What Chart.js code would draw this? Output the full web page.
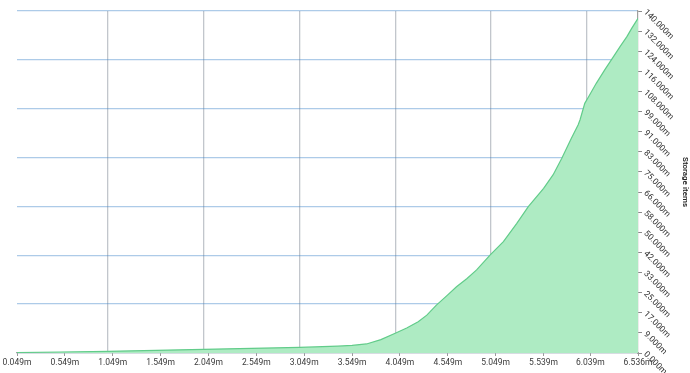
<!DOCTYPE html>
<html>
<head>
<meta charset="utf-8">
<script src="https://cdn.jsdelivr.net/npm/chart.js@4.4.0/dist/chart.umd.min.js"></script>
<style>
html,body{margin:0;padding:0;background:#fff;}
#wrap{width:690px;height:373px;position:relative;}
</style>
</head>
<body>
<div id="wrap"><canvas id="c" width="690" height="373"></canvas></div>
<script>
// x positions (millions) and storage item values (thousands)
const xValues = [0.049, 0.5, 1.0, 1.5, 2.0, 2.5, 3.0, 3.4, 3.55, 3.70, 3.85, 4.0, 4.12, 4.24, 4.33, 4.43, 4.54, 4.64, 4.75, 4.85, 4.99, 5.13, 5.27, 5.39, 5.55, 5.65, 5.74, 5.84, 5.91, 5.93, 5.98, 6.02, 6.10, 6.19, 6.28, 6.35, 6.42, 6.47, 6.536];
const storageItems = [0.2, 0.4, 0.7, 1.1, 1.5, 1.9, 2.3, 2.8, 3.1, 3.7, 5.5, 8.1, 10.2, 12.8, 15.5, 19.6, 23.5, 27.1, 30.5, 34.0, 40.1, 45.6, 53.1, 59.9, 67.4, 73.0, 79.7, 87.9, 93.3, 95.4, 102.2, 104.9, 110.4, 116.0, 121.3, 125.5, 129.5, 132.9, 137.0];

const xTickValues = [0.049, 0.549, 1.049, 1.549, 2.049, 2.549, 3.049, 3.549, 4.049, 4.549, 5.049, 5.549, 6.039, 6.536];
const xTickLabels = ['0.049m', '0.549m', '1.049m', '1.549m', '2.049m', '2.549m', '3.049m', '3.549m', '4.049m', '4.549m', '5.049m', '5.539m', '6.039m', '6.536m'];
const yTickLabels = ['0.000m', '9.000m', '17.000m', '25.000m', '33.000m', '42.000m', '50.000m', '58.000m', '66.000m', '75.000m', '83.000m', '91.000m', '99.000m', '108.000m', '116.000m', '124.000m', '132.000m', '140.000m'];
const yMax = 140;
const xGridValues = [1, 2, 3, 4, 5, 6];
const yGridValues = [0, 20, 40, 60, 80, 100, 120, 140];

const points = xValues.map((x, i) => ({x: x, y: storageItems[i]}));
const yTickValues = yTickLabels.map((_, i) => i * yMax / (yTickLabels.length - 1));

const font = {family: 'Roboto, "Liberation Sans", Arial, sans-serif', size: 8.5};

new Chart(document.getElementById('c'), {
  type: 'line',
  data: {
    datasets: [{
      label: 'Storage items',
      data: points,
      xAxisID: 'x',
      yAxisID: 'y',
      borderColor: '#62cc8a',
      backgroundColor: '#aeebc3',
      borderWidth: 1.2,
      fill: 'origin',
      pointRadius: 0,
      tension: 0
    }]
  },
  options: {
    responsive: false,
    animation: false,
    layout: {padding: {left: 17, top: 11, right: 0, bottom: 0}},
    plugins: {legend: {display: false}, tooltip: {enabled: false}},
    scales: {
      x: {
        type: 'linear',
        position: 'bottom',
        min: 0.049, max: 6.536,
        z: 1,
        afterBuildTicks: s => { s.ticks = xTickValues.map(v => ({value: v})); },
        afterFit: s => { s.height = 20; },
        grid: {drawOnChartArea: false, drawTicks: true, tickLength: 3, color: '#9a9a9a', lineWidth: 1},
        border: {display: true, color: '#a0a0a0', width: 1.2},
        ticks: {
          autoSkip: false, maxRotation: 0, minRotation: 0, padding: 2,
          color: '#3a3a3a', font: font,
          callback: (v, i) => xTickLabels[i]
        }
      },
      xg: {
        type: 'linear',
        position: 'top',
        min: 0.049, max: 6.536,
        z: 1,
        afterBuildTicks: s => { s.ticks = xGridValues.map(v => ({value: v})); },
        afterFit: s => { s.height = 0; },
        grid: {drawTicks: false, color: 'rgba(95,105,120,0.38)', lineWidth: 1.3},
        border: {display: false},
        ticks: {display: false}
      },
      y: {
        type: 'linear',
        position: 'right',
        min: 0, max: yMax,
        z: 1,
        afterBuildTicks: s => { s.ticks = yTickValues.map(v => ({value: v})); },
        afterFit: s => { s.width = 52; },
        grid: {drawOnChartArea: false, drawTicks: true, tickLength: 4, color: '#8a8a8a', lineWidth: 1},
        border: {display: true, color: '#a0a0a0', width: 1.2},
        ticks: {
          autoSkip: false, minRotation: -45, maxRotation: -45, padding: 3,
          color: '#333', font: font,
          callback: (v, i) => yTickLabels[i]
        },
        title: {
          display: true, text: 'Storage items', color: '#222',
          font: {family: 'Roboto, "Liberation Sans", Arial, sans-serif', size: 8, weight: '600'},
          padding: {top: 0, bottom: 4}
        }
      },
      yg: {
        type: 'linear',
        position: 'left',
        min: 0, max: yMax,
        z: 1,
        afterBuildTicks: s => { s.ticks = yGridValues.map(v => ({value: v})); },
        afterFit: s => { s.width = 0; },
        grid: {drawTicks: false, color: 'rgba(60,130,200,0.42)', lineWidth: 1.3},
        border: {display: false},
        ticks: {display: false}
      }
    }
  }
});
</script>
</body>
</html>
